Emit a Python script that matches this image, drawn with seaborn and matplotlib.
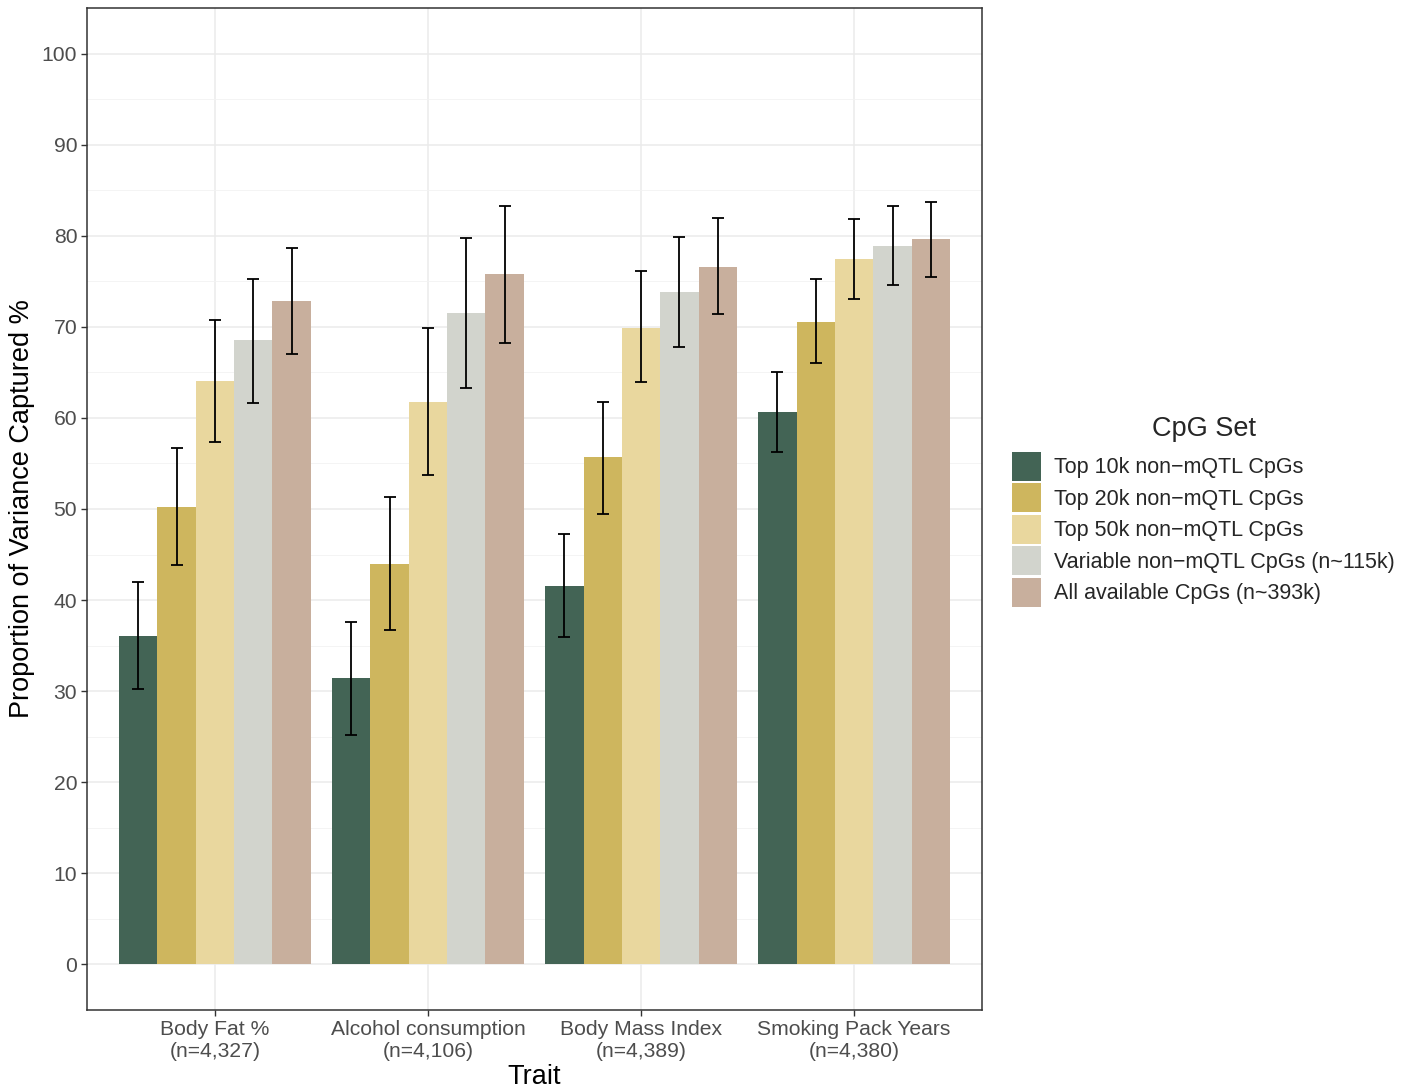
import matplotlib
matplotlib.use("Agg")
import matplotlib.pyplot as plt
import seaborn as sns
import pandas as pd
import numpy as np

traits = ["Body Fat %\n(n=4,327)", "Alcohol consumption\n(n=4,106)",
          "Body Mass Index\n(n=4,389)", "Smoking Pack Years\n(n=4,380)"]
cpg_sets = ["Top 10k non\u2212mQTL CpGs", "Top 20k non\u2212mQTL CpGs",
            "Top 50k non\u2212mQTL CpGs", "Variable non\u2212mQTL CpGs (n~115k)",
            "All available CpGs (n~393k)"]
colors = ["#436455", "#CEB65E", "#E9D79E", "#D2D4CD", "#C8AF9D"]

# values per trait (rows) x cpg set (cols)
values = [[36.1, 50.2, 64.1, 68.5, 72.8],
          [31.4, 44.0, 61.7, 71.5, 75.8],
          [41.5, 55.7, 69.9, 73.8, 76.6],
          [60.6, 70.5, 77.4, 78.9, 79.6]]
lower = [[30.2, 43.8, 57.4, 61.6, 67.0],
         [25.2, 36.7, 53.7, 63.3, 68.2],
         [35.9, 49.5, 63.9, 67.8, 71.4],
         [56.3, 66.0, 73.0, 74.6, 75.5]]
upper = [[42.0, 56.7, 70.8, 75.3, 78.7],
         [37.6, 51.3, 69.9, 79.7, 83.3],
         [47.3, 61.8, 76.1, 79.9, 81.9],
         [65.0, 75.2, 81.8, 83.3, 83.7]]

rows = []
for i, t in enumerate(traits):
    for j, s in enumerate(cpg_sets):
        rows.append(dict(trait=t, cpg=s, value=values[i][j],
                         lo=lower[i][j], hi=upper[i][j]))
df = pd.DataFrame(rows)

sns.set_theme(style="white")
plt.rcParams['font.family'] = ['Liberation Sans', 'DejaVu Sans']

fig = plt.figure(figsize=(14.13, 10.90), dpi=100)
ax = fig.add_axes([87/1413, 1 - 1010/1090, (982-87)/1413, (1010-8)/1090])

sns.barplot(data=df, x="trait", y="value", hue="cpg", order=traits,
            hue_order=cpg_sets, palette=colors, saturation=1, width=0.9,
            errorbar=None, ax=ax, zorder=2, linewidth=0)

# error bars at bar centers
for j, (s, cont) in enumerate(zip(cpg_sets, ax.containers)):
    sub = df[df.cpg == s].set_index("trait").loc[traits]
    xs = [b.get_x() + b.get_width() / 2 for b in cont]
    ys = sub["value"].values
    ax.errorbar(xs, ys, yerr=[ys - sub["lo"].values, sub["hi"].values - ys],
                fmt="none", ecolor="black", elinewidth=1.3, capsize=4.2,
                capthick=1.3, zorder=3)

ax.set_xlim(-0.6, 3.6)
ax.set_ylim(-5, 105)
ax.set_yticks(np.arange(0, 101, 10))
ax.set_yticks(np.arange(5, 100, 10), minor=True)
ax.grid(True, which="major", color="#EBEBEB", linewidth=1.1, zorder=0)
ax.grid(True, which="minor", axis="y", color="#F2F2F2", linewidth=0.6, zorder=0)
ax.set_axisbelow(True)
for sp in ax.spines.values():
    sp.set_color("#333333")
    sp.set_linewidth(1.1)
ax.tick_params(axis="both", which="major", length=4, width=1.0, color="#333333",
               labelsize=15.2, labelcolor="#4D4D4D", pad=3)
ax.tick_params(axis="both", which="minor", length=0)
ax.tick_params(axis="x", bottom=True)
ax.tick_params(axis="y", left=True)
ax.set_xlabel("Trait", fontsize=19.5, color="black", labelpad=2.5)
ax.set_ylabel("Proportion of Variance Captured %", fontsize=19.5, color="black", labelpad=5)

handles, labels = ax.get_legend_handles_labels()
if ax.legend_ is not None:
    ax.legend_.remove()
leg = fig.legend(handles[:5], labels[:5], title="CpG Set", loc="center left",
                 bbox_to_anchor=(1012/1413, 1 - 511.5/1090), frameon=False,
                 fontsize=15.5, title_fontsize=19.5, handlelength=1.35,
                 handleheight=1.70, labelspacing=0.116, handletextpad=0.62,
                 borderaxespad=0, borderpad=0)
leg._legend_box.sep = 7

fig.savefig("out.png", dpi=100)
